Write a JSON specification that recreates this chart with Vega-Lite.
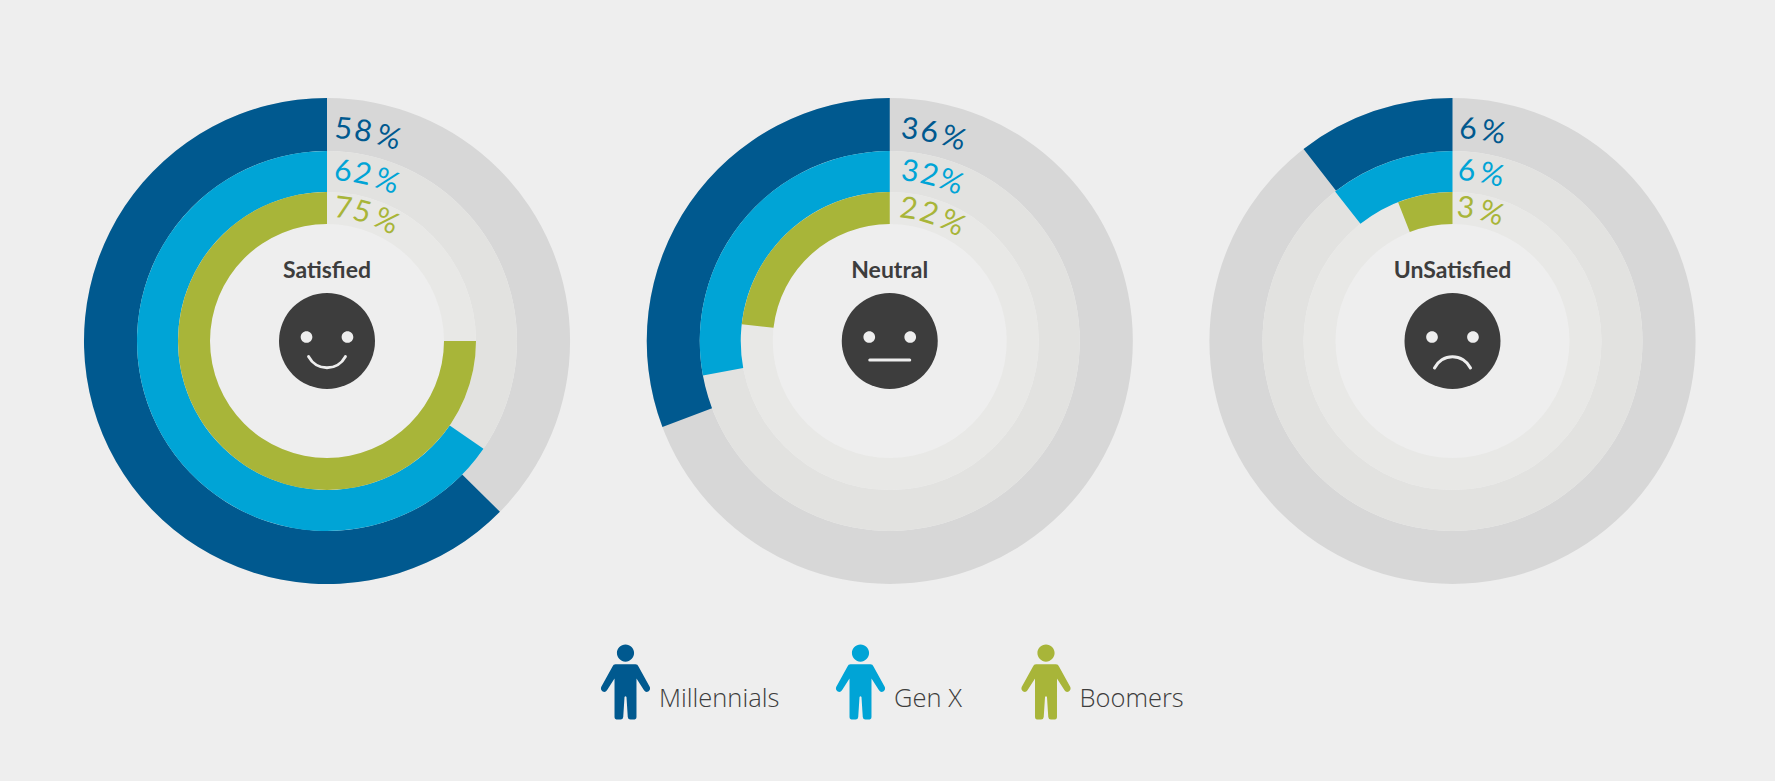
{
"$schema":"https://vega.github.io/schema/vega-lite/v6.json",
"width":1775,"height":781,"padding":0,"autosize":{"type":"none"},
"background":"#eeeeee",
"view":{"stroke":null},
"config":{"axis":{"disable":true},"legend":{"disable":true}},
"datasets":{
"panels":[{"panel":"Satisfied"},{"panel":"Neutral"},{"panel":"UnSatisfied"}],
"arcs":[
{"panel":"Satisfied","generation":"Millennials","pct":58,"sweep":62.6},
{"panel":"Satisfied","generation":"Gen X","pct":62,"sweep":65.4},
{"panel":"Satisfied","generation":"Boomers","pct":75,"sweep":75},
{"panel":"Neutral","generation":"Millennials","pct":36,"sweep":30.75},
{"panel":"Neutral","generation":"Gen X","pct":32,"sweep":27.9},
{"panel":"Neutral","generation":"Boomers","pct":22,"sweep":23.2},
{"panel":"UnSatisfied","generation":"Millennials","pct":6,"sweep":10.5},
{"panel":"UnSatisfied","generation":"Gen X","pct":6,"sweep":10.6},
{"panel":"UnSatisfied","generation":"Boomers","pct":3,"sweep":5.95}],
"glyphs":[
{"panel":"Satisfied","generation":"Millennials","glyph":"5","deg":4.4},
{"panel":"Satisfied","generation":"Millennials","glyph":"8","deg":9.8},
{"panel":"Satisfied","generation":"Millennials","glyph":"%","deg":16.8},
{"panel":"Satisfied","generation":"Gen X","glyph":"6","deg":5.4},
{"panel":"Satisfied","generation":"Gen X","glyph":"2","deg":12},
{"panel":"Satisfied","generation":"Gen X","glyph":"%","deg":20.5},
{"panel":"Satisfied","generation":"Boomers","glyph":"7","deg":7},
{"panel":"Satisfied","generation":"Boomers","glyph":"5","deg":15.2},
{"panel":"Satisfied","generation":"Boomers","glyph":"%","deg":26.4},
{"panel":"Neutral","generation":"Millennials","glyph":"3","deg":5.4},
{"panel":"Neutral","generation":"Millennials","glyph":"6","deg":10.8},
{"panel":"Neutral","generation":"Millennials","glyph":"%","deg":17.5},
{"panel":"Neutral","generation":"Gen X","glyph":"3","deg":6.8},
{"panel":"Neutral","generation":"Gen X","glyph":"2","deg":13.5},
{"panel":"Neutral","generation":"Gen X","glyph":"%","deg":21},
{"panel":"Neutral","generation":"Boomers","glyph":"2","deg":8.2},
{"panel":"Neutral","generation":"Boomers","glyph":"2","deg":17.2},
{"panel":"Neutral","generation":"Boomers","glyph":"%","deg":27.9},
{"panel":"UnSatisfied","generation":"Millennials","glyph":"6","deg":4.2},
{"panel":"UnSatisfied","generation":"Millennials","glyph":"%","deg":11.1},
{"panel":"UnSatisfied","generation":"Gen X","glyph":"6","deg":4.8},
{"panel":"UnSatisfied","generation":"Gen X","glyph":"%","deg":13.4},
{"panel":"UnSatisfied","generation":"Boomers","glyph":"3","deg":5.6},
{"panel":"UnSatisfied","generation":"Boomers","glyph":"%","deg":17}],
"legend":[
{"generation":"Millennials","slot":0},
{"generation":"Gen X","slot":1},
{"generation":"Boomers","slot":2}]
},
"resolve":{"scale":{"x":"independent","y":"independent","theta":"independent","color":"shared"}},
"layer":[
{"data":{"name":"panels"},"mark":{"type":"arc","radius":243,"radius2":190,"theta":0,"theta2":6.2832,"fill":"#d7d7d7"},
 "encoding":{"x":{"field":"panel","type":"nominal","axis":null,"scale":{"type":"point","padding":0,"domain":["Satisfied","Neutral","UnSatisfied"],"range":[327,1452.5]}},"y":{"datum":"rings","type":"nominal","axis":null,"scale":{"type":"point","padding":0,"domain":["rings","legend"],"range":[341,682]}}}},
{"data":{"name":"panels"},"mark":{"type":"arc","radius":190,"radius2":149,"theta":0,"theta2":6.2832,"fill":"#e2e2e0"},
 "encoding":{"x":{"field":"panel","type":"nominal","axis":null,"scale":{"type":"point","padding":0,"domain":["Satisfied","Neutral","UnSatisfied"],"range":[327,1452.5]}},"y":{"datum":"rings","type":"nominal","axis":null,"scale":{"type":"point","padding":0,"domain":["rings","legend"],"range":[341,682]}}}},
{"data":{"name":"panels"},"mark":{"type":"arc","radius":149,"radius2":117,"theta":0,"theta2":6.2832,"fill":"#e8e8e6"},
 "encoding":{"x":{"field":"panel","type":"nominal","axis":null,"scale":{"type":"point","padding":0,"domain":["Satisfied","Neutral","UnSatisfied"],"range":[327,1452.5]}},"y":{"datum":"rings","type":"nominal","axis":null,"scale":{"type":"point","padding":0,"domain":["rings","legend"],"range":[341,682]}}}},
{"data":{"name":"arcs"},"transform":[{"filter":"datum.generation==='Millennials'"}],"mark":{"type":"arc","radius":243,"radius2":190},
 "encoding":{"x":{"field":"panel","type":"nominal","axis":null,"scale":{"type":"point","padding":0,"domain":["Satisfied","Neutral","UnSatisfied"],"range":[327,1452.5]}},"y":{"datum":"rings","type":"nominal","axis":null,"scale":{"type":"point","padding":0,"domain":["rings","legend"],"range":[341,682]}},
 "theta":{"field":"sweep","type":"quantitative","stack":null,"scale":{"domain":[0,100],"range":[0,-6.2832]}},
 "color":{"field":"generation","type":"nominal","legend":null,"scale":{"domain":["Millennials","Gen X","Boomers"],"range":["#00598f","#00a4d6","#a8b539"]}}}},
{"data":{"name":"arcs"},"transform":[{"filter":"datum.generation==='Gen X'"}],"mark":{"type":"arc","radius":190,"radius2":149},
 "encoding":{"x":{"field":"panel","type":"nominal","axis":null,"scale":{"type":"point","padding":0,"domain":["Satisfied","Neutral","UnSatisfied"],"range":[327,1452.5]}},"y":{"datum":"rings","type":"nominal","axis":null,"scale":{"type":"point","padding":0,"domain":["rings","legend"],"range":[341,682]}},
 "theta":{"field":"sweep","type":"quantitative","stack":null,"scale":{"domain":[0,100],"range":[0,-6.2832]}},
 "color":{"field":"generation","type":"nominal","legend":null,"scale":{"domain":["Millennials","Gen X","Boomers"],"range":["#00598f","#00a4d6","#a8b539"]}}}},
{"data":{"name":"arcs"},"transform":[{"filter":"datum.generation==='Boomers'"}],"mark":{"type":"arc","radius":149,"radius2":117},
 "encoding":{"x":{"field":"panel","type":"nominal","axis":null,"scale":{"type":"point","padding":0,"domain":["Satisfied","Neutral","UnSatisfied"],"range":[327,1452.5]}},"y":{"datum":"rings","type":"nominal","axis":null,"scale":{"type":"point","padding":0,"domain":["rings","legend"],"range":[341,682]}},
 "theta":{"field":"sweep","type":"quantitative","stack":null,"scale":{"domain":[0,100],"range":[0,-6.2832]}},
 "color":{"field":"generation","type":"nominal","legend":null,"scale":{"domain":["Millennials","Gen X","Boomers"],"range":["#00598f","#00a4d6","#a8b539"]}}}},
{"data":{"name":"glyphs"},"transform":[{"filter":"datum.generation==='Millennials'"}],"mark":{"type":"text","radius":212,"font":"Lato","fontWeight":400,"fontSize":30,"baseline":"middle","align":"center"},
 "encoding":{"x":{"field":"panel","type":"nominal","axis":null,"scale":{"type":"point","padding":0,"domain":["Satisfied","Neutral","UnSatisfied"],"range":[327,1452.5]}},"y":{"datum":"rings","type":"nominal","axis":null,"scale":{"type":"point","padding":0,"domain":["rings","legend"],"range":[341,682]}},
 "theta":{"field":"deg","type":"quantitative","stack":null,"scale":{"domain":[0,360],"range":[0,6.2832]}},
 "angle":{"field":"deg","type":"quantitative","scale":{"domain":[0,360],"range":[0,360]}},
 "text":{"field":"glyph"},
 "color":{"field":"generation","type":"nominal","legend":null,"scale":{"domain":["Millennials","Gen X","Boomers"],"range":["#00598f","#00a4d6","#a8b539"]}}}},
{"data":{"name":"glyphs"},"transform":[{"filter":"datum.generation==='Gen X'"}],"mark":{"type":"text","radius":170,"font":"Lato","fontWeight":400,"fontSize":30,"baseline":"middle","align":"center"},
 "encoding":{"x":{"field":"panel","type":"nominal","axis":null,"scale":{"type":"point","padding":0,"domain":["Satisfied","Neutral","UnSatisfied"],"range":[327,1452.5]}},"y":{"datum":"rings","type":"nominal","axis":null,"scale":{"type":"point","padding":0,"domain":["rings","legend"],"range":[341,682]}},
 "theta":{"field":"deg","type":"quantitative","stack":null,"scale":{"domain":[0,360],"range":[0,6.2832]}},
 "angle":{"field":"deg","type":"quantitative","scale":{"domain":[0,360],"range":[0,360]}},
 "text":{"field":"glyph"},
 "color":{"field":"generation","type":"nominal","legend":null,"scale":{"domain":["Millennials","Gen X","Boomers"],"range":["#00598f","#00a4d6","#a8b539"]}}}},
{"data":{"name":"glyphs"},"transform":[{"filter":"datum.generation==='Boomers'"}],"mark":{"type":"text","radius":133,"font":"Lato","fontWeight":400,"fontSize":30,"baseline":"middle","align":"center"},
 "encoding":{"x":{"field":"panel","type":"nominal","axis":null,"scale":{"type":"point","padding":0,"domain":["Satisfied","Neutral","UnSatisfied"],"range":[327,1452.5]}},"y":{"datum":"rings","type":"nominal","axis":null,"scale":{"type":"point","padding":0,"domain":["rings","legend"],"range":[341,682]}},
 "theta":{"field":"deg","type":"quantitative","stack":null,"scale":{"domain":[0,360],"range":[0,6.2832]}},
 "angle":{"field":"deg","type":"quantitative","scale":{"domain":[0,360],"range":[0,360]}},
 "text":{"field":"glyph"},
 "color":{"field":"generation","type":"nominal","legend":null,"scale":{"domain":["Millennials","Gen X","Boomers"],"range":["#00598f","#00a4d6","#a8b539"]}}}},
{"data":{"name":"panels"},"mark":{"type":"text","font":"Lato","fontWeight":700,"fontSize":23,"fill":"#3d3d3d","yOffset":-63,"baseline":"alphabetic","align":"center"},
 "encoding":{"x":{"field":"panel","type":"nominal","axis":null,"scale":{"type":"point","padding":0,"domain":["Satisfied","Neutral","UnSatisfied"],"range":[327,1452.5]}},"y":{"datum":"rings","type":"nominal","axis":null,"scale":{"type":"point","padding":0,"domain":["rings","legend"],"range":[341,682]}},
 "text":{"field":"panel"}}},
{"data":{"name":"panels"},"mark":{"type":"arc","radius":48,"radius2":0,"theta":0,"theta2":6.2832,"fill":"#3d3d3d"},
 "encoding":{"x":{"field":"panel","type":"nominal","axis":null,"scale":{"type":"point","padding":0,"domain":["Satisfied","Neutral","UnSatisfied"],"range":[327,1452.5]}},"y":{"datum":"rings","type":"nominal","axis":null,"scale":{"type":"point","padding":0,"domain":["rings","legend"],"range":[341,682]}}}},
{"data":{"name":"panels"},"mark":{"type":"point","filled":true,"fill":"#eeeeee","opacity":1,"size":6400,"stroke":null,"shape":"M-0.366,-0.1 A0.146,0.146 0 1 0 -0.658,-0.1 A0.146,0.146 0 1 0 -0.366,-0.1 Z M0.658,-0.1 A0.146,0.146 0 1 0 0.366,-0.1 A0.146,0.146 0 1 0 0.658,-0.1 Z"},
 "encoding":{"x":{"field":"panel","type":"nominal","axis":null,"scale":{"type":"point","padding":0,"domain":["Satisfied","Neutral","UnSatisfied"],"range":[327,1452.5]}},"y":{"datum":"rings","type":"nominal","axis":null,"scale":{"type":"point","padding":0,"domain":["rings","legend"],"range":[341,682]}}}},
{"data":{"name":"panels"},"mark":{"type":"point","filled":false,"fill":null,"stroke":"#eeeeee","strokeWidth":3,"strokeCap":"round","opacity":1,"size":6400},
 "encoding":{"x":{"field":"panel","type":"nominal","axis":null,"scale":{"type":"point","padding":0,"domain":["Satisfied","Neutral","UnSatisfied"],"range":[327,1452.5]}},"y":{"datum":"rings","type":"nominal","axis":null,"scale":{"type":"point","padding":0,"domain":["rings","legend"],"range":[341,682]}},
 "shape":{"field":"panel","type":"nominal","legend":null,"scale":{"domain":["Satisfied","Neutral","UnSatisfied"],"range":["M-0.46,0.39 A0.52,0.52 0 0 0 0.46,0.39","M-0.5,0.475 L0.5,0.475","M-0.45,0.675 A0.5,0.5 0 0 1 0.45,0.675"]}}}},
{"data":{"name":"legend"},"mark":{"type":"point","filled":true,"opacity":1,"size":5776,"stroke":null,"shape":"M-0.263,-0.466 L0.263,-0.466 Q0.32,-0.466 0.342,-0.408 L0.64,0.13 Q0.665,0.2 0.6,0.25 Q0.53,0.28 0.487,0.22 L0.289,-0.092 L0.289,0.92 Q0.289,0.989 0.2,0.989 L0.13,0.989 Q0.066,0.989 0.06,0.92 L0.026,0.395 Q0,0.355 -0.026,0.395 L-0.06,0.92 Q-0.066,0.989 -0.13,0.989 L-0.2,0.989 Q-0.289,0.989 -0.289,0.92 L-0.289,-0.092 L-0.487,0.22 Q-0.53,0.28 -0.6,0.25 Q-0.665,0.2 -0.64,0.13 L-0.342,-0.408 Q-0.32,-0.466 -0.263,-0.466 Z M0.226,-0.76 A0.226,0.226 0 1 0 -0.226,-0.76 A0.226,0.226 0 1 0 0.226,-0.76 Z"},
 "encoding":{"x":{"field":"slot","type":"quantitative","axis":null,"scale":{"domain":[0,1,2],"range":[625.5,860.5,1046]}},"y":{"datum":"legend","type":"nominal","axis":null,"scale":{"type":"point","padding":0,"domain":["rings","legend"],"range":[341,682]}},
 "color":{"field":"generation","type":"nominal","legend":null,"scale":{"domain":["Millennials","Gen X","Boomers"],"range":["#00598f","#00a4d6","#a8b539"]}}}},
{"data":{"name":"legend"},"mark":{"type":"text","font":"Open Sans","fontWeight":300,"fontSize":25.5,"fill":"#3d3d3d","align":"left","baseline":"alphabetic","xOffset":33.5,"yOffset":25},
 "encoding":{"x":{"field":"slot","type":"quantitative","axis":null,"scale":{"domain":[0,1,2],"range":[625.5,860.5,1046]}},"y":{"datum":"legend","type":"nominal","axis":null,"scale":{"type":"point","padding":0,"domain":["rings","legend"],"range":[341,682]}},
 "text":{"field":"generation"}}}
]
}
